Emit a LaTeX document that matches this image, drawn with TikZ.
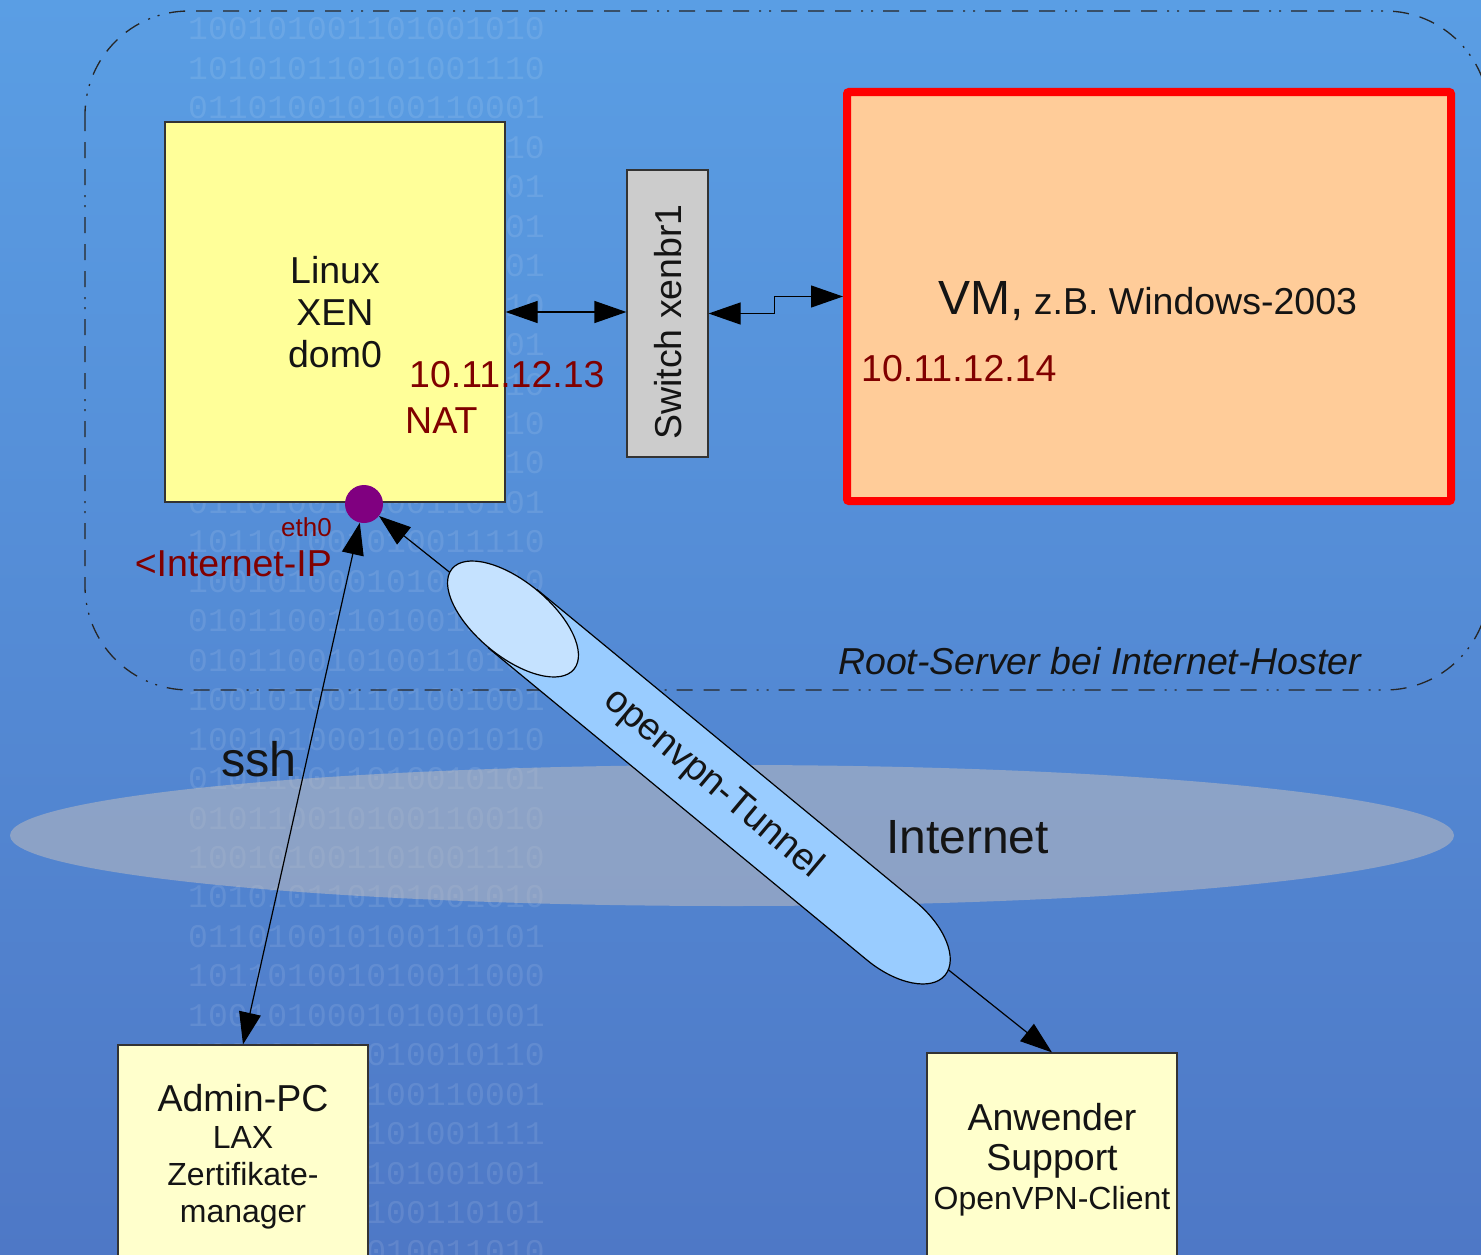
\documentclass[tikz,border=0pt]{standalone}
\usepackage{fontspec}
\setmainfont{Liberation Sans}
\newfontfamily\bitfont{Liberation Mono}
\usetikzlibrary{arrows.meta,shapes.geometric}
\newcommand\myfs[2]{\fontsize{#1}{#2}\selectfont}
\definecolor{bgtop}{RGB}{90,158,228}
\definecolor{bgbot}{RGB}{78,120,198}
\definecolor{linuxfill}{RGB}{255,255,153}
\definecolor{pcfill}{RGB}{255,255,204}
\definecolor{vmfill}{RGB}{255,204,153}
\definecolor{switchfill}{RGB}{204,204,204}
\definecolor{darkred}{RGB}{128,0,0}
\definecolor{ethcol}{RGB}{128,0,128}
\definecolor{tubefill}{RGB}{153,204,255}
\definecolor{tubeend}{RGB}{197,226,255}
\definecolor{netfill}{RGB}{198,192,190}
\definecolor{edgecol}{RGB}{51,51,51}
\definecolor{txt}{RGB}{20,20,20}
\tikzset{
  box/.style={draw=edgecol, line width=1.2pt, inner sep=0pt},
  biarrow/.style={line width=1.2pt, draw=black,
    {Triangle[length=32pt,width=22pt]}-{Triangle[length=32pt,width=22pt]}},
  border/.style={draw=black!85, line width=1.3pt,
    dash pattern=on 16pt off 11pt on 16pt off 11pt on 16pt off 10pt on 2pt off 8pt on 2pt off 10pt},
  redlabel/.style={text=darkred, inner sep=0pt, font=\myfs{37.5}{42}},
  plainlabel/.style={text=txt, inner sep=0pt, font=\myfs{37.5}{42}},
  bitrow/.style={text=white, text opacity=0.1, inner sep=0pt, font=\bitfont\myfs{33}{33}},
  tube/.style={draw=black, line width=1.2pt, fill=tubefill},
  tubecap/.style={draw=black, line width=1.2pt, fill=tubeend}
}
\begin{document}
\begin{tikzpicture}[x=1pt,y=-1pt]
\useasboundingbox (0,0) rectangle (1481,1255);
\clip (0,0) rectangle (1481,1255);
\shade[top color=bgtop,bottom color=bgbot] (0,0) rectangle (1481,1255);

% background binary digits
\foreach \bits [count=\i from 0] in {
100101001101001010,101010110101001110,011010010100110001,101101001010011010,
100101000101001001,010101001101010101,100110100101001001,011010010100101010,
101001010010010101,010110100101001010,100101010011010110,011010010100110010,
011010010100110101,101101001010011110,100101000101010010,010110011010011010,
010110010100110101,100101001101001001,100101000101001010,010110011010010101,
010110010100110010,100101001101001110,101010110101001010,011010010100110101,
101101001010011000,100101000101001001,100101010010010110,010110100100110001,
101001010101001111,010110101101001001,100101001100110101,011010010010011010}
{ \node[bitrow, anchor=base west] (bits\i) at (188,{40+39.45*\i}) {\bits}; }

% Internet cloud
\node[ellipse, fill=netfill, fill opacity=0.5, minimum width=1444pt, minimum height=141pt, inner sep=0pt] (internet) at (732,835.5) {};
\node[plainlabel, font=\myfs{48}{50}, anchor=base west] (internetlabel) at (886,853) {Internet};

% root server frame
\draw[border, rounded corners=104pt] (85,11) rectangle (1489,690);
\node[plainlabel, font=\itshape\myfs{37.5}{42}, anchor=base west] (rootlabel) at (838,674) {Root-Server bei Internet-Hoster};

% Linux dom0
\node[box, fill=linuxfill, minimum width=340pt, minimum height=380pt, align=center, text=txt, font=\myfs{37.5}{42}] (linux) at (335,312) {Linux\\XEN\\dom0};
\node[redlabel, anchor=base west] (ip13) at (409,387) {10.11.12.13};
\node[redlabel, anchor=base west] (nat) at (405,433) {NAT};

% switch
\node[box, fill=switchfill, minimum width=81pt, minimum height=287pt] (switch) at (667.5,313.5) {};
\node[plainlabel, rotate=90] (switchlabel) at (668,322) {Switch xenbr1};

% VM
\node[draw=red, line width=8pt, fill=vmfill, minimum width=604pt, minimum height=409pt, rounded corners=2pt, inner sep=0pt] (vm) at (1149,296.5) {};
\node[plainlabel, anchor=base west] (vmlabel) at (938,314) {{\myfs{48}{50}VM,} z.B. Windows-2003};
\node[redlabel, anchor=base west] (ip14) at (861,381) {10.11.12.14};

% eth0
\node[circle, fill=ethcol, minimum size=38pt, inner sep=0pt] (eth) at (364,504) {};
\node[redlabel, font=\myfs{26}{30}, anchor=base east] (ethlabel) at (332,536) {eth0};
\node[redlabel, anchor=base east] (iplabel) at (332,576) {<Internet-IP};

% client boxes
\node[box, fill=pcfill, minimum width=250pt, minimum height=224pt, align=center, text=txt, font=\myfs{32}{37}] (admin) at (243,1157)
  {{\myfs{37.5}{37}Admin-PC}\\LAX\\Zertifikate-\\manager};
\node[box, fill=pcfill, minimum width=250pt, minimum height=214pt, align=center, text=txt, font=\myfs{37.5}{39.5}] (anw) at (1052,1160)
  {Anwender\\Support\\{\myfs{32}{39.5}OpenVPN-Client}};

% connectors
\draw[biarrow] (linux.east) -- (linux.east -| switch.west);
\draw[biarrow] (switch.east) -- ++(66,0) |- (vm.west);
\draw[biarrow] (admin.north) -- (eth);
\draw[biarrow] (eth) -- (anw.north);
\node[plainlabel, font=\myfs{48.5}{50}, anchor=base west] (sshlabel) at (221,776) {ssh};

% tunnel
\begin{scope}[shift={(513,619)}, rotate=-39.5]
  \draw[tube] (0,-38) -- (490,-38) arc[start angle=-90, end angle=90, x radius=70, y radius=38] -- (0,38) -- cycle;
  \draw[tubecap] (0,0) ellipse[x radius=79, y radius=37.5];
\end{scope}
\node[plainlabel, font=\myfs{38}{40}, rotate=-40] (tunnellabel) at (713,784) {openvpn-Tunnel};
\end{tikzpicture}
\end{document}
